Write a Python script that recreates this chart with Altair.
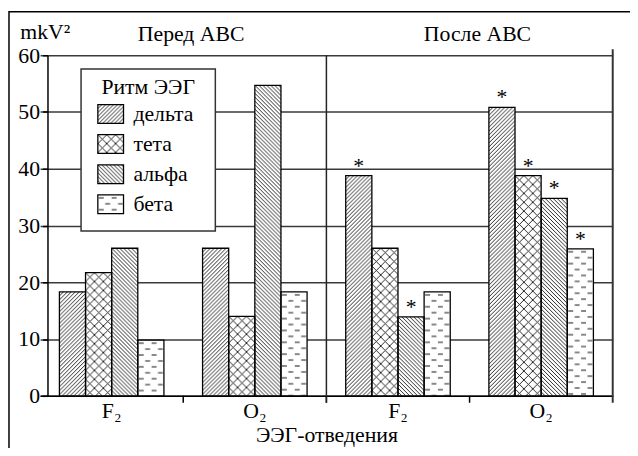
import altair as alt
import pandas as pd
from urllib.parse import quote

# ---------------- data ----------------
leads = ["F₂", "O₂"]
periods = ["Перед АВС", "После АВС"]
rhythms = ["дельта", "тета", "альфа", "бета"]
before_F2 = [18.3, 21.7, 26.0, 9.8]
before_O2 = [26.0, 14.0, 54.7, 18.3]
after_F2 = [38.8, 26.0, 13.9, 18.3]
after_O2 = [50.8, 38.8, 34.8, 25.9]
sig_before_F2 = [False, False, False, False]
sig_before_O2 = [False, False, False, False]
sig_after_F2 = [True, False, True, False]
sig_after_O2 = [True, True, True, True]
y_title = "mkV²"
x_title = "ЭЭГ-отведения"
legend_title = "Ритм ЭЭГ"

series = {
    (periods[0], leads[0]): (before_F2, sig_before_F2),
    (periods[0], leads[1]): (before_O2, sig_before_O2),
    (periods[1], leads[0]): (after_F2, sig_after_F2),
    (periods[1], leads[1]): (after_O2, sig_after_O2),
}

# ---------------- hatch patterns (style) ----------------
def pattern_url(w, h, path, sw):
    svg = (
        "<svg xmlns='http://www.w3.org/2000/svg'>"
        f"<defs><pattern id='p' patternUnits='userSpaceOnUse' width='{w}' height='{h}'>"
        f"<path d='{path}' stroke='#111' stroke-width='{sw}' fill='none'/></pattern></defs>"
        "<rect width='100%' height='100%' fill='#fff'/>"
        "<rect width='100%' height='100%' fill='url(#p)'/></svg>"
    )
    return "data:image/svg+xml;charset=utf-8," + quote(svg)

PATTERNS = {
    "дельта": pattern_url(4, 4, "M0,4 L4,0 M-1,1 L1,-1 M3,5 L5,3", 0.9),
    "тета": pattern_url(9, 9, "M0,0 L9,9 M9,0 L0,9", 0.9),
    "альфа": pattern_url(4, 4, "M0,0 L4,4 M-1,3 L1,5 M3,-1 L5,1", 0.9),
    "бета": pattern_url(13, 12, "M1,3 H6 M7.5,9 H12.5", 1.2),
}

rows = []
grp_order = []
for p in periods:
    for l in leads:
        g = p + "|" + l
        grp_order.append(g)
        vals, sig = series[(p, l)]
        for r, v, s in zip(rhythms, vals, sig):
            rows.append({"period": p, "lead": l, "grp": g, "ritm": r, "value": v,
                         "star": s, "url": PATTERNS[r]})
df = pd.DataFrame(rows)
legend_df = pd.DataFrame({"ritm": rhythms, "url": [PATTERNS[r] for r in rhythms]})
header_df = pd.DataFrame({"period": periods, "grp": [p + "|" + leads[0] for p in periods]})
tick_df = pd.DataFrame({"grp": grp_order[1:]})
divider_df = pd.DataFrame({"grp": [grp_order[2]]})
end_df = pd.DataFrame({"grp": [grp_order[-1]]})
one = pd.DataFrame({"a": [0]})

W, H = 572, 345
FONT = "Liberation Serif"
FS = 22
PI, PO = 0.27, 0.135
XR = [-7.5, 572.5]

xscale = alt.Scale(domain=grp_order, range=XR, paddingInner=PI, paddingOuter=PO)
# same bands without padding: band edges are the group boundaries
bscale = alt.Scale(type="band", domain=grp_order, range=XR, paddingInner=0, paddingOuter=0)
xaxis = alt.Axis(title=x_title, labelExpr="split(datum.value, '|')[1]", ticks=False,
                 domainColor="black", domainWidth=1.5, labelAngle=0, labelPadding=5,
                 titlePadding=3, grid=False)


def X(axis=None):
    return alt.X("grp:N", sort=grp_order, scale=xscale, axis=axis)


def XB(band):
    return alt.X("grp:N", sort=grp_order, scale=bscale, axis=None, bandPosition=band)


yscale = alt.Scale(domain=[0, 60], nice=False)
yaxis = alt.Axis(values=[0, 10, 20, 30, 40, 50, 60], grid=True, gridColor="#3a3a3a",
                 gridWidth=1.5, domainColor="black", domainWidth=1.5, tickColor="black",
                 tickWidth=1.5, tickSize=5, labelPadding=3, title=y_title, titleAngle=0,
                 titleX=-28, titleY=-17, titleAlign="left", titleBaseline="alphabetic",
                 titleFontWeight="normal")
xoff = alt.XOffset("ritm:N", sort=rhythms, scale=alt.Scale(paddingInner=0, paddingOuter=0))

base = alt.Chart(df)

frame = alt.Chart(one).mark_rect(filled=False, color="black", strokeWidth=1.5).encode(
    x=alt.value(-39), x2=alt.value(700), y=alt.value(-44), y2=alt.value(600))

bars_img = base.mark_image(aspect=False).encode(
    x=X(xaxis), xOffset=xoff,
    y=alt.Y("value:Q", scale=yscale, axis=yaxis), y2=alt.datum(0),
    url="url:N")

bars_outline = base.mark_bar(filled=False, color="black", strokeWidth=1.3).encode(
    x=X(), xOffset=xoff,
    y=alt.Y("value:Q", scale=yscale, axis=None), y2=alt.datum(0))

stars = base.transform_filter("datum.star").mark_text(
    text="*", font=FONT, fontSize=FS, align="center", baseline="alphabetic",
    dy=-3, color="black").encode(
    x=X(), xOffset=xoff, y=alt.Y("value:Q", scale=yscale, axis=None))

ticks = alt.Chart(tick_df).mark_rule(color="black", strokeWidth=1.5).encode(
    x=XB(0), y=alt.value(H), y2=alt.value(H + 7))
divider = alt.Chart(divider_df).mark_rule(color="#222", strokeWidth=1.5).encode(
    x=XB(0), y=alt.value(0), y2=alt.value(H + 7))
endline = alt.Chart(end_df).mark_rule(color="#333", strokeWidth=2).encode(
    x=XB(1), y=alt.value(-6), y2=alt.value(H + 7))

headers = alt.Chart(header_df).mark_text(
    font=FONT, fontSize=FS, baseline="middle", align="center", dx=8, color="black").encode(
    x=XB(1), y=alt.value(-21), text="period:N")

# ---------------- manual legend ----------------
lscale = alt.Scale(type="band", domain=rhythms, range=[44.25, 166.25],
                   paddingInner=0.377, paddingOuter=0.1885)
legend_box = alt.Chart(one).mark_rect(fill="white", stroke="#333", strokeWidth=1.5).encode(
    x=alt.value(34), x2=alt.value(170), y=alt.value(14), y2=alt.value(178))
legend_head = alt.Chart(one).mark_text(
    text=legend_title, font=FONT, fontSize=FS, align="center", baseline="middle",
    color="black").encode(x=alt.value(102), y=alt.value(32))
legend_sw = alt.Chart(legend_df).mark_image(aspect=False).encode(
    x=alt.value(51), x2=alt.value(77),
    y=alt.Y("ritm:N", sort=rhythms, scale=lscale, axis=None), url="url:N")
legend_sw_out = alt.Chart(legend_df).mark_rect(filled=False, color="black", strokeWidth=1.3).encode(
    x=alt.value(51), x2=alt.value(77),
    y=alt.Y("ritm:N", sort=rhythms, scale=lscale, axis=None))
legend_lab = alt.Chart(legend_df).mark_text(
    font=FONT, fontSize=FS, align="left", baseline="middle", color="black").encode(
    x=alt.value(87), y=alt.Y("ritm:N", sort=rhythms, scale=lscale, axis=None), text="ritm:N")

chart = alt.layer(
    frame, bars_img, bars_outline, stars, ticks, divider, endline, headers,
    legend_box, legend_head, legend_sw, legend_sw_out, legend_lab,
).resolve_scale(x="independent", y="independent").properties(
    width=W, height=H,
    autosize=alt.AutoSizeParams(type="none"),
    padding={"left": 40, "top": 45, "right": 18, "bottom": 50},
    background="white",
).configure_view(stroke=None).configure_axis(
    labelFont=FONT, labelFontSize=FS, labelColor="black",
    titleFont=FONT, titleFontSize=FS, titleColor="black", titleFontWeight="normal",
)

chart.save("out.html", embed_options={"renderer": "svg", "actions": False})
